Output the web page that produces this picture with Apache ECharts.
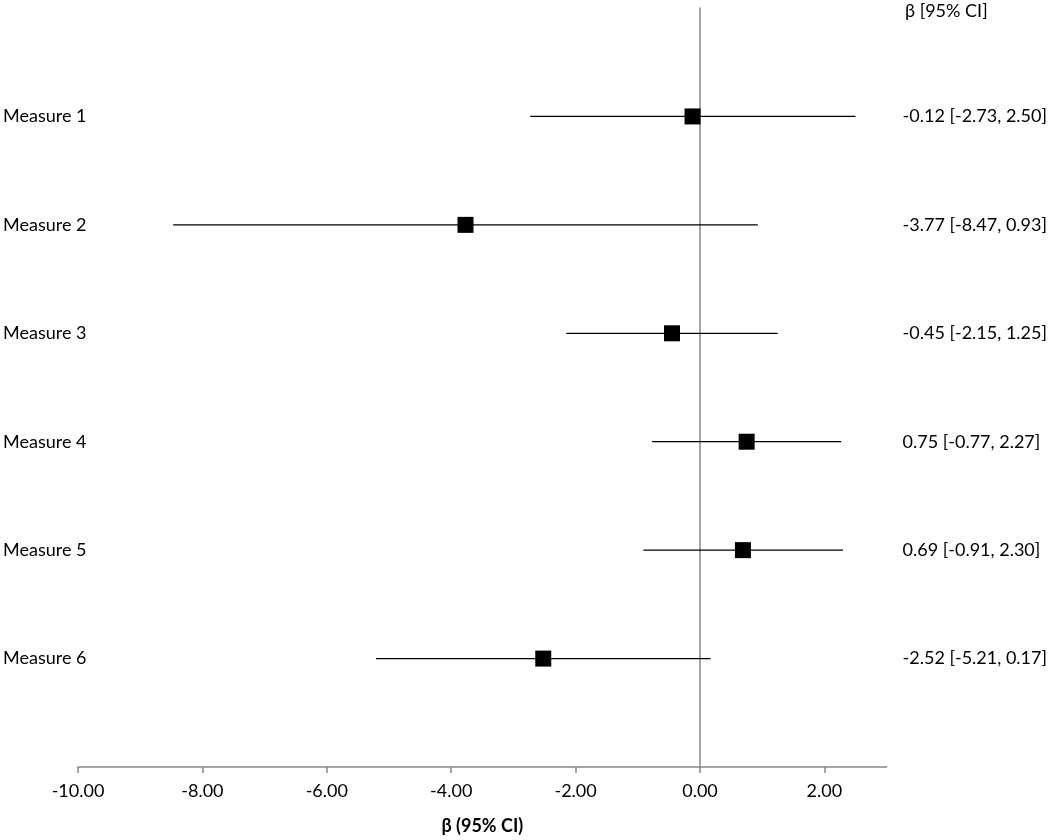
<!DOCTYPE html>
<html><head><meta charset="utf-8">
<script src="https://cdn.jsdelivr.net/npm/echarts@6/dist/echarts.min.js"></script>
<style>html,body{margin:0;padding:0;background:#fff}#c{width:1050px;height:840px}</style>
</head><body><div id="c"></div>
<script>
const measures = ['Measure 1','Measure 2','Measure 3','Measure 4','Measure 5','Measure 6'];
const beta = [-0.12, -3.77, -0.45, 0.75, 0.69, -2.52];
const lower = [-2.73, -8.47, -2.15, -0.77, -0.91, -5.21];
const upper = [2.50, 0.93, 1.25, 2.27, 2.30, 0.17];
const xTicks = [-10, -8, -6, -4, -2, 0, 2];
const headerText = 'β [95% CI]';
const xTitle = 'β (95% CI)';

const FONT = 'Lato, "Open Sans", sans-serif';
const ciLabels = measures.map((m,i)=>`${beta[i].toFixed(2)} [${lower[i].toFixed(2)}, ${upper[i].toFixed(2)}]`);

const chart = echarts.init(document.getElementById('c'), null, {renderer:'canvas'});
const yBase = {type:'value', min:0, max:7, interval:1, inverse:true, splitLine:{show:false}};
chart.setOption({
  animation:false,
  textStyle:{fontFamily:FONT},
  grid:{left:74, right:161, top:8, bottom:67},
  xAxis:{type:'value', min:-10, max:3, interval:2,
    axisLine:{onZero:false, lineStyle:{color:'#868686', width:1.5}},
    axisTick:{length:6, lineStyle:{color:'#868686', width:1.5}},
    axisLabel:{color:'#000', fontSize:18, fontFamily:FONT, margin:15,
      formatter:v=> xTicks.includes(v) ? v.toFixed(2) : '', showMaxLabel:false},
    splitLine:{show:false},
    name:xTitle, nameLocation:'middle', nameGap:50,
    nameTextStyle:{color:'#000', fontSize:18, fontWeight:'bold', fontFamily:FONT}
  },
  yAxis:[
    Object.assign({}, yBase, {axisLine:{show:true, onZero:true, lineStyle:{color:'#868686', width:1.5}},
      axisTick:{show:false}, axisLabel:{show:false}}),
    Object.assign({}, yBase, {position:'left', axisLine:{show:false, onZero:false}, axisTick:{show:false},
      axisLabel:{color:'#000', fontSize:18, fontFamily:FONT, align:'left', margin:75,
        formatter:v=> (v>=1 && v<=measures.length) ? measures[v-1] : ''}}),
    Object.assign({}, yBase, {position:'right', axisLine:{show:false, onZero:false}, axisTick:{show:false},
      axisLabel:{color:'#000', fontSize:18, fontFamily:FONT, align:'left', margin:16,
        formatter:v=> (v>=1 && v<=measures.length) ? ciLabels[v-1] : ''}})
  ],
  graphic:[{type:'text', left:905, top:2, style:{text:headerText, fill:'#000', font:'18px '+FONT}}],
  series:[
    {type:'custom', yAxisIndex:0, data:measures.map((m,i)=>[lower[i], upper[i], i+1]),
      renderItem:(params, api)=>{
        const p1 = api.coord([api.value(0), api.value(2)]);
        const p2 = api.coord([api.value(1), api.value(2)]);
        return {type:'line', shape:{x1:p1[0], y1:p1[1], x2:p2[0], y2:p2[1]},
          style:{stroke:'#000', lineWidth:1.2}};
      }, z:2},
    {type:'scatter', yAxisIndex:0, symbol:'rect', symbolSize:16,
      itemStyle:{color:'#000', opacity:1}, data:measures.map((m,i)=>[beta[i], i+1]), z:3}
  ]
});
</script></body></html>
